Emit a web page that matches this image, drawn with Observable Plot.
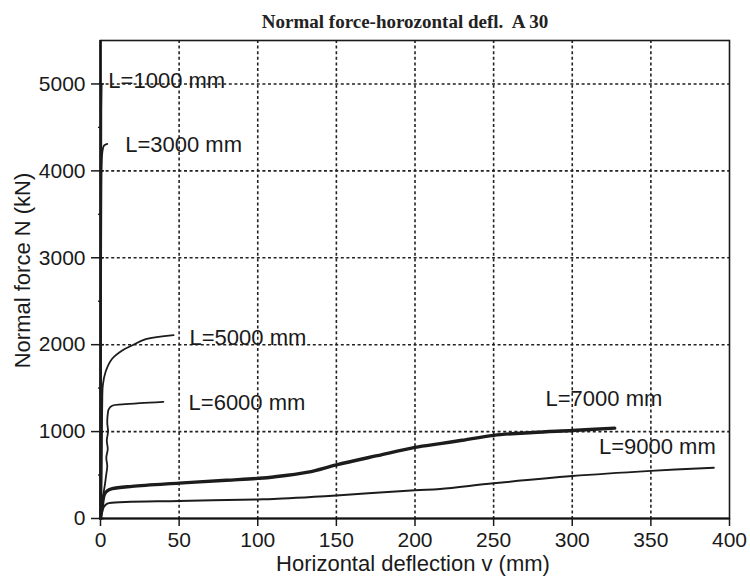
<!DOCTYPE html>
<html><head><meta charset="utf-8">
<script src="https://cdn.jsdelivr.net/npm/d3@7"></script>
<script src="https://cdn.jsdelivr.net/npm/@observablehq/plot@0.6"></script>
<style>
body{margin:0;background:#fff;}
</style></head><body><div id="chart"></div>
<script>
const titleText = "Normal force-horozontal defl.\u00a0 A 30";
const xLabel = "Horizontal deflection v (mm)";
const yLabel = "Normal force N (kN)";
const xTicks = [0, 50, 100, 150, 200, 250, 300, 350, 400];
const yTicks = [0, 1000, 2000, 3000, 4000, 5000];
const yMinorTicks = [500, 1500, 2500, 3500, 4500];
const xGridLines = [50, 100, 150, 200, 250, 300, 350];
const yGridLines = [1000, 2000, 3000, 4000, 5000];

// series (x = deflection mm, y = normal force kN)
const x1000 = [0, 0.2, 0.4, 0.6];
const y1000 = [0, 2500, 4700, 5000];
const x3000 = [0, 0.3, 0.5, 0.7, 1.2, 2.2, 4.3];
const y3000 = [0, 2000, 3700, 4050, 4220, 4290, 4310];
const x5000 = [0, 0.6, 0.9, 1.1, 1.5, 3.2, 7.4, 13.8, 20, 28.8, 46.5];
const y5000 = [0, 300, 800, 1300, 1534, 1686, 1838, 1934, 1991, 2063, 2110];
const x6000 = [0, 0.5, 1.1, 2.8, 3.6, 4.3, 3.7, 4.6, 4.0, 4.8, 4.3, 4.6, 5.2, 7.4, 13.8, 25, 40];
const y6000 = [0, 100, 200, 390, 500, 600, 700, 800, 900, 1000, 1100, 1200, 1255, 1297, 1312, 1328, 1343];
const x7000 = [0, 0.8, 1.5, 2.5, 4.5, 7.5, 20, 50, 80, 100, 110, 132, 150, 176, 200, 216, 230, 250, 275, 300, 327];
const y7000 = [0, 100, 200, 280, 320, 343, 370, 407, 440, 462, 478, 533, 617, 723, 818, 861, 900, 957, 990, 1013, 1040];
const x9000 = [0, 0.8, 2, 4.3, 16, 50, 100, 110, 150, 200, 216, 250, 300, 350, 390];
const y9000 = [0, 60, 130, 171, 190, 201, 220, 225, 266, 325, 340, 405, 488, 548, 585];

// curve labels
const labelTexts = ["L=1000 mm", "L=3000 mm", "L=5000 mm", "L=6000 mm", "L=7000 mm", "L=9000 mm"];
const labelX = [5, 15.7, 56.6, 56, 283, 317];
const labelY = [5030, 4300, 2080, 1335, 1375, 820];

const mk = (xs, ys) => xs.map((x, i) => ({x, y: ys[i]}));
const thin = {x: "x", y: "y", stroke: "#1c1c1c", strokeWidth: 1.8, strokeLinejoin: "round", strokeLinecap: "round", curve: "catmull-rom"};
const labels = labelTexts.map((t, i) => ({t, x: labelX[i], y: labelY[i]}));
const noText = () => "";
const plain = d => String(d);
const sans = "Liberation Sans, Arial, Helvetica, sans-serif";

const chart = Plot.plot({
  width: 750, height: 579,
  marginTop: 40, marginRight: 21, marginBottom: 61, marginLeft: 100,
  x: {domain: [0, 400], label: null},
  y: {domain: [0, 5500], label: null},
  style: {fontFamily: sans, fontSize: "21px", color: "#1a1a1a", background: "#fff", overflow: "visible"},
  marks: [
    Plot.gridX(xGridLines, {stroke: "#222", strokeOpacity: 1, strokeWidth: 1.6, strokeDasharray: "3,2.6"}),
    Plot.gridY(yGridLines, {stroke: "#222", strokeOpacity: 1, strokeWidth: 1.6, strokeDasharray: "3,2.6"}),
    Plot.frame({stroke: "#1a1a1a", strokeWidth: 1.6}),
    Plot.axisX(xTicks, {tickSize: 8, tickPadding: 6, fontSize: 21, label: null, strokeWidth: 1.5, tickFormat: plain}),
    Plot.axisY(yTicks, {tickSize: 9, tickPadding: 6, fontSize: 21, label: null, strokeWidth: 1.5, tickFormat: plain}),
    Plot.axisY(yTicks, {tickSize: 4, dx: 4, tickFormat: noText, label: null, strokeWidth: 1.5}),
    Plot.axisY(yMinorTicks, {tickSize: 4, dx: 2, tickFormat: noText, label: null, strokeWidth: 1.3}),
    Plot.ruleX([0], {stroke: "#111", strokeWidth: 2.6}),
    Plot.ruleY([0], {stroke: "#111", strokeWidth: 2}),
    Plot.line(mk(x1000, y1000), {...thin, strokeWidth: 2.2, curve: "linear"}),
    Plot.line(mk(x3000, y3000), thin),
    Plot.line(mk(x5000, y5000), thin),
    Plot.line(mk(x6000, y6000), thin),
    Plot.line(mk(x7000, y7000), {...thin, strokeWidth: 3.4}),
    Plot.line(mk(x9000, y9000), {...thin, strokeWidth: 2}),
    Plot.text(labels, {x: "x", y: "y", text: "t", textAnchor: "start", fontSize: 22, fontFamily: sans, fill: "#1a1a1a"}),
    Plot.text([titleText], {frameAnchor: "top", dy: -26, dx: -10, textAnchor: "middle", fontFamily: "Liberation Serif, Times New Roman, serif", fontWeight: "bold", fontSize: 19, fill: "#222"}),
    Plot.text([xLabel], {frameAnchor: "bottom", dy: 52, dx: -2, textAnchor: "middle", fontSize: 22, fontFamily: sans, fill: "#1a1a1a"}),
    Plot.text([yLabel], {frameAnchor: "left", rotate: -90, dx: -78, dy: -9, textAnchor: "middle", fontSize: 22, fontFamily: sans, fill: "#1a1a1a"})
  ]
});
document.getElementById("chart").append(chart);
</script></body></html>
